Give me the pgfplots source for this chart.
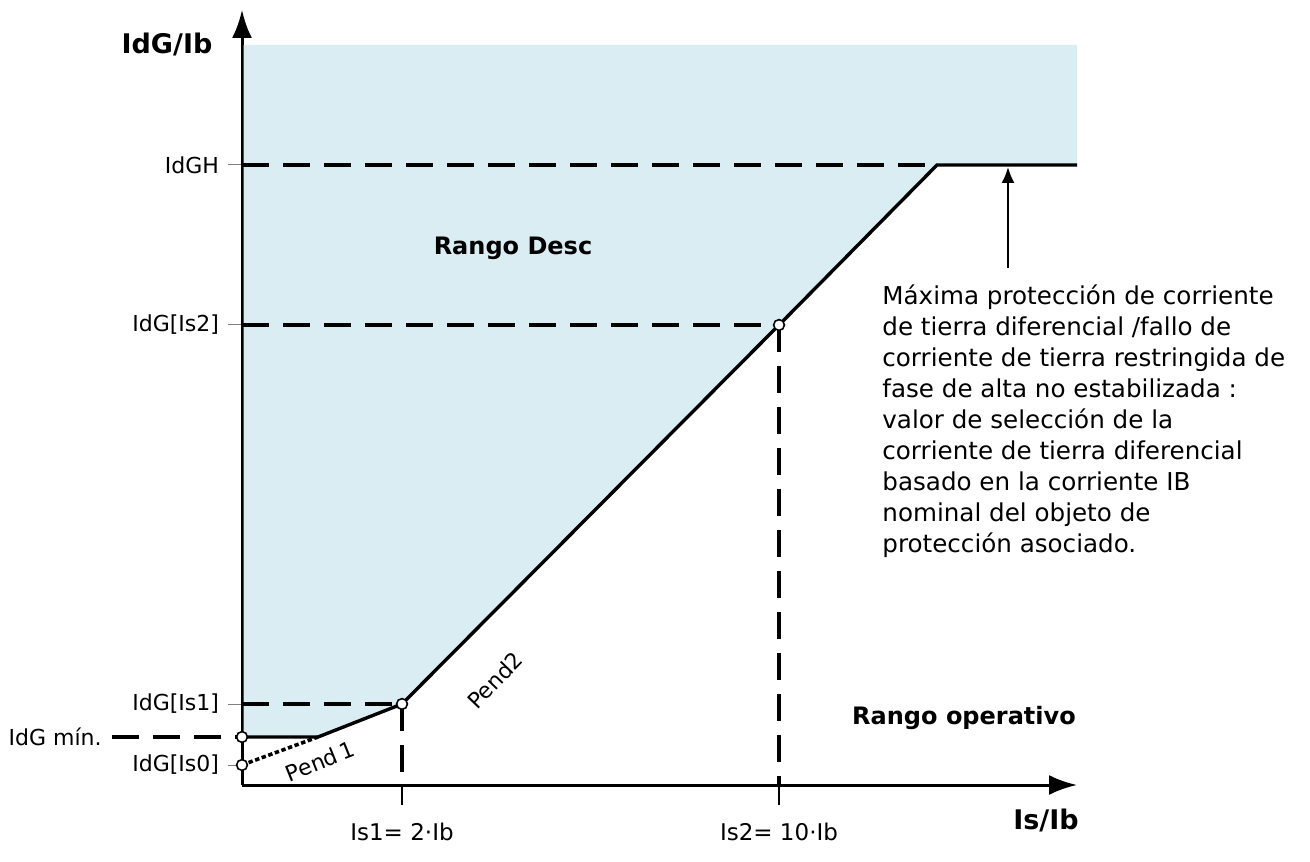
\documentclass[border=0pt]{standalone}
\usepackage{pgfplots}
\pgfplotsset{compat=1.18}
\usepackage{fontspec}
\setmainfont{DejaVu Sans}
\usetikzlibrary{arrows.meta}
\definecolor{shade}{RGB}{218,237,243}

\tikzset{
  dashline/.style={line width=1.8pt, dash pattern=on 13.5pt off 7pt},
  curve/.style={line width=1.7pt},
}

\begin{document}
\begin{tikzpicture}
\begin{axis}[
  x=0.5pt, y=0.5pt,
  xmin=0, xmax=835, ymin=0, ymax=775,
  axis lines=left,
  axis line style={line width=1.5pt, -{Latex[length=14pt,width=10pt]}},
  clip=false,
  tick align=outside,
  major tick length=7pt,
  tick style={gray, line width=0.5pt},
  xtick=\empty,
  extra x ticks={160,537},
  extra x tick labels={Is1= 2·Ib, Is2= 10·Ib},
  extra x tick style={major tick length=10pt, tick style={black, line width=0.6pt}},
  ytick={20,81,460,620},
  yticklabels={{IdG[Is0]},{IdG[Is1]},{IdG[Is2]},{IdGH}},
  ticklabel style={font=\fontsize{11}{13}\selectfont},
  xticklabel style={yshift=-5.5pt, font=\fontsize{11.5}{13}\selectfont},
  yticklabel style={xshift=-1pt},
]
% trip region
\addplot[draw=none, fill=shade] coordinates {
  (1.5,48) (76,48) (160,81) (537,460) (695,620) (835,620) (835,740) (1.5,740)
} -- cycle;

% guide lines
\addplot[dashline] coordinates {(-130,48) (0,48)};
\addplot[dashline] coordinates {(0,620) (695,620)};
\addplot[dashline] coordinates {(0,460) (537,460)};
\addplot[dashline] coordinates {(0,81) (160,81)};
\addplot[dashline] coordinates {(160,81) (160,0)};
\addplot[dashline] coordinates {(537,460) (537,0)};

% slope 1 extension
\addplot[line width=1.8pt, dash pattern=on 2.2pt off 1.3pt] coordinates {(0,20) (76,48)};

% characteristic
\addplot[curve] coordinates {(0,48) (76,48) (160,81) (537,460) (695,620) (835,620)};

% annotation arrow
\addplot[line width=1pt, -{Latex[length=8pt,width=6.5pt]}] coordinates {(766,517) (766,618)};

% break points
\addplot[only marks, mark=*, mark size=2.7pt, mark options={fill=white, draw=black, line width=0.8pt}]
  coordinates {(0,48) (0,20) (160,81) (537,460)};

\node[font=\bfseries\fontsize{13.5}{16}\selectfont] at (axis cs:-75,740) {IdG/Ib};
\node[font=\bfseries\fontsize{13.5}{16}\selectfont] at (axis cs:804,-35) {Is/Ib};
\node[font=\bfseries\fontsize{12}{14}\selectfont] at (axis cs:271,537) {Rango Desc};
\node[font=\bfseries\fontsize{12}{14}\selectfont] at (axis cs:722,67) {Rango operativo};
\node[font=\fontsize{11}{13}\selectfont, rotate=46] at (axis cs:253,105) {Pend2};
\node[font=\fontsize{11}{13}\selectfont, rotate=22] at (axis cs:78,24) {Pend\,1};
\node[font=\fontsize{11}{13}\selectfont, anchor=east, inner sep=0pt] at (axis cs:-140,48) {IdG mín.};
\node[font=\fontsize{12.3}{15.5}\selectfont, anchor=north west, align=left, inner sep=0pt]
  at (axis cs:640,501) {Máxima protección de corriente\\
de tierra diferencial /fallo de\\
corriente de tierra restringida de\\
fase de alta no estabilizada :\\
valor de selección de la\\
corriente de tierra diferencial\\
basado en la corriente IB\\
nominal del objeto de\\
protección asociado.};

\path (axis cs:-242,-76) rectangle (axis cs:1068,785);
\end{axis}
\end{tikzpicture}
\end{document}
